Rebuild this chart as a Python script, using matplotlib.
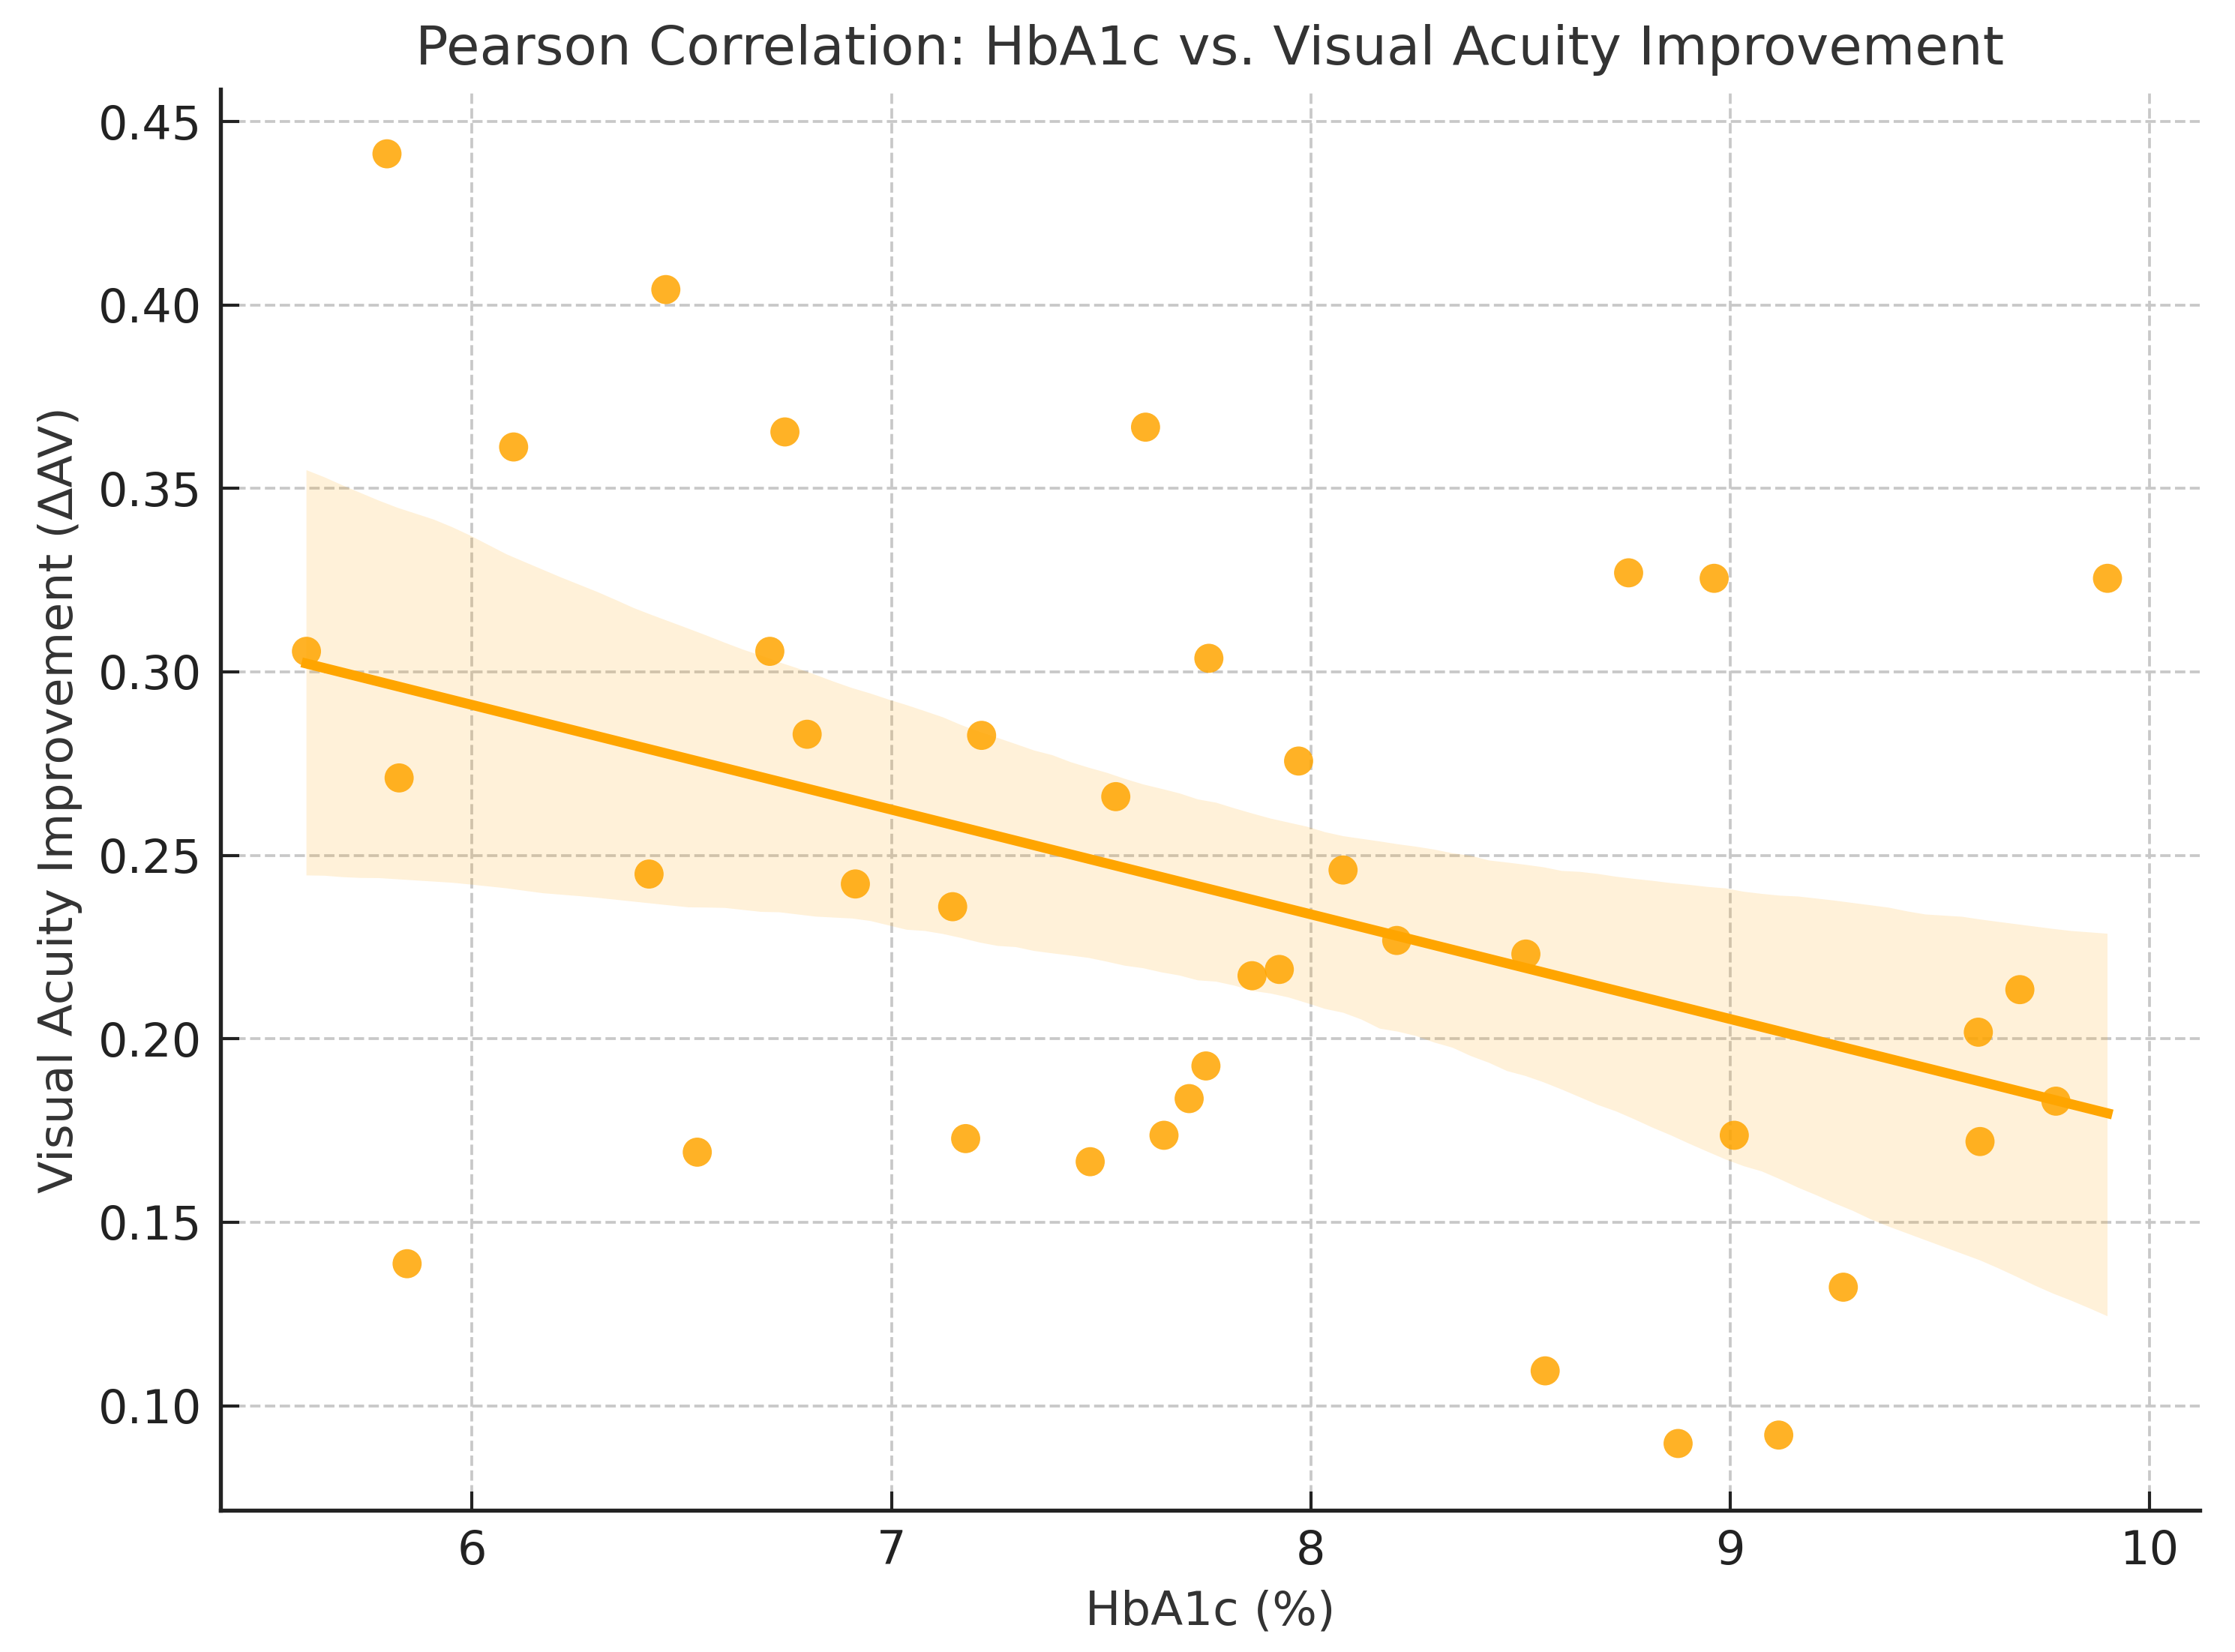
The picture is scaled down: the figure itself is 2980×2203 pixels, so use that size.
import numpy as np
import pandas as pd
import matplotlib
matplotlib.use("Agg")
import matplotlib.pyplot as plt
import seaborn as sns

hba1c = [5.797, 6.462, 6.099, 6.746, 5.605, 6.710, 6.799, 7.215, 5.826, 7.535,
         7.606, 8.758, 8.962, 9.900, 7.757, 7.971, 6.422, 6.914, 7.146, 6.537,
         7.177, 7.474, 5.845, 8.077, 8.205, 8.513, 7.860, 7.925, 7.750, 7.710,
         7.650, 9.691, 9.592, 9.777, 9.010, 9.596, 9.270, 8.559, 8.876, 9.116]
delta_av = [0.4412, 0.4042, 0.3613, 0.3654, 0.3056, 0.3056, 0.2830, 0.2827, 0.2711, 0.2660,
            0.3667, 0.3270, 0.3255, 0.3255, 0.3037, 0.2757, 0.2449, 0.2422, 0.2360, 0.1691,
            0.1728, 0.1665, 0.1387, 0.2460, 0.2268, 0.2231, 0.2172, 0.2189, 0.1926, 0.1837,
            0.1737, 0.2134, 0.2018, 0.1830, 0.1737, 0.1720, 0.1323, 0.1095, 0.0897, 0.0920]

df = pd.DataFrame({"HbA1c": hba1c, "dAV": delta_av})

fig = plt.figure(figsize=(10, 2203 / 298), dpi=298)
ax = fig.add_axes([294 / 2980, 1 - 2014 / 2203, (2933 - 294) / 2980, (2014 - 119) / 2203])

sns.regplot(data=df, x="HbA1c", y="dAV", ax=ax, color="orange", ci=95, n_boot=1000, seed=7,
            scatter_kws={"s": 88, "alpha": 0.85, "edgecolor": "none"},
            line_kws={"linewidth": 3.2})

ax.set_xlim(5.40, 10.12)
ax.set_ylim(0.0715, 0.4588)
ax.grid(True, linestyle="--", color="#c8c8c8", linewidth=0.9)
ax.set_axisbelow(True)
for s in ["top", "right"]:
    ax.spines[s].set_visible(False)
for s in ["left", "bottom"]:
    ax.spines[s].set_linewidth(1.3)
    ax.spines[s].set_color("#222222")
ax.tick_params(direction="in", length=6, width=1.0, labelsize=15.0, colors="#222222", pad=6)
ax.set_xticks([6, 7, 8, 9, 10])
ax.set_yticks([0.10, 0.15, 0.20, 0.25, 0.30, 0.35, 0.40, 0.45])
ax.set_yticklabels(["0.10", "0.15", "0.20", "0.25", "0.30", "0.35", "0.40", "0.45"])
ax.set_xlabel("HbA1c (%)", fontsize=15.2, color="#333333", labelpad=5)
ax.set_ylabel("Visual Acuity Improvement (ΔAV)", fontsize=15.3, color="#333333", labelpad=5)
ax.set_title("Pearson Correlation: HbA1c vs. Visual Acuity Improvement", fontsize=17.5,
             color="#333333", pad=8)

fig.savefig("out.png", dpi=298)
